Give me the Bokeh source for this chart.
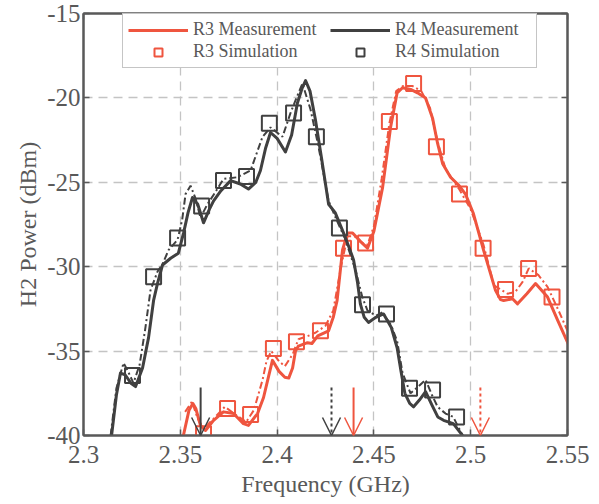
from bokeh.plotting import figure
from bokeh.models import (Range1d, FixedTicker, LinearAxis, Legend, LegendItem,
                          Arrow, OpenHead)
from bokeh.embed import file_html
from bokeh.resources import INLINE

# ---------------- data ----------------
x_ticks = [2.3, 2.35, 2.4, 2.45, 2.5, 2.55]
x_labels = ["2.3", "2.35", "2.4", "2.45", "2.5", "2.55"]
y_ticks = [-40, -35, -30, -25, -20, -15]
y_labels = ["-40", "-35", "-30", "-25", "-20", "-15"]

r3_meas_x = [2.3516, 2.3545, 2.3565, 2.3580, 2.3604, 2.3630, 2.3672, 2.3723, 2.3775, 2.3826,
             2.3852, 2.3899, 2.3930, 2.3956, 2.3976, 2.4010, 2.4040, 2.4060, 2.4080, 2.4095,
             2.4110, 2.4157, 2.4180, 2.4210, 2.4266, 2.4290, 2.4310, 2.4338, 2.4364, 2.4390,
             2.4430, 2.4467, 2.4500, 2.4545, 2.4586, 2.4620, 2.4648, 2.4690, 2.4725, 2.4767,
             2.4803, 2.4829, 2.4855, 2.4896, 2.4940, 2.4973, 2.5014, 2.5066, 2.5128, 2.5154,
             2.5170, 2.5216, 2.5242, 2.5290, 2.5335, 2.5397, 2.5450, 2.5505]
r3_meas_y = [-40.0, -38.5, -38.1, -38.4, -39.4, -39.7, -39.1, -38.6, -38.7, -39.3,
             -39.4, -38.7, -37.75, -36.5, -35.55, -36.2, -36.55, -36.6, -36.0, -35.0,
             -34.7, -34.5, -34.55, -34.1, -33.8, -33.0, -32.0, -29.0, -28.0, -28.0,
             -28.5, -28.9, -27.9, -25.3, -21.75, -19.7, -19.4, -19.5, -19.7, -20.0,
             -21.2, -22.7, -23.9, -24.7, -25.2, -25.7, -26.85, -29.0, -31.4, -31.95,
             -32.0, -31.9, -32.2, -31.6, -31.0, -31.8, -33.2, -34.6]

r3_simline_x = [2.3525, 2.3560, 2.3590, 2.3620, 2.3672, 2.3730, 2.3790, 2.3840, 2.3880, 2.3925,
                2.3945, 2.3970, 2.4010, 2.4040, 2.4080, 2.4110, 2.4160, 2.4200, 2.4250, 2.4290,
                2.4330, 2.4364, 2.4400, 2.4440, 2.4467, 2.4500, 2.4540, 2.4580, 2.4615, 2.4650,
                2.4700, 2.4745, 2.4790, 2.4829, 2.4870, 2.4940, 2.5000, 2.5066, 2.5120, 2.5190,
                2.5230, 2.5268, 2.5300, 2.5350, 2.5397, 2.5454, 2.5500]
r3_simline_y = [-38.6, -38.0, -39.0, -39.6, -39.0, -38.3, -38.8, -39.2, -38.5, -36.7,
                -35.6, -35.0, -35.6, -35.9, -35.2, -34.3, -34.1, -33.9, -33.5, -32.6,
                -30.0, -28.2, -28.2, -28.6, -28.7, -27.6, -24.8, -21.5, -19.6, -19.3,
                -19.3, -19.6, -20.6, -22.6, -24.2, -25.4, -26.6, -28.7, -31.1, -31.6,
                -31.5, -30.9, -30.1, -30.5, -31.2, -32.6, -33.8]

r3_sim_x = [2.3620, 2.3744, 2.3863, 2.3981, 2.4100, 2.4224, 2.4343, 2.4457,
            2.4580, 2.4705, 2.4823, 2.4942, 2.5064, 2.5180, 2.5299, 2.5420]
r3_sim_y = [-39.9, -38.4, -38.75, -34.85, -34.45, -33.8, -28.9, -28.6,
            -21.4, -19.15, -22.9, -25.7, -28.9, -31.35, -30.1, -31.8]

r4_meas_x = [2.3145, 2.3170, 2.3191, 2.3215, 2.3245, 2.3269, 2.3305, 2.3336, 2.3362, 2.3382,
             2.3408, 2.3450, 2.3490, 2.3517, 2.3540, 2.3563, 2.3590, 2.3620, 2.3650, 2.3672,
             2.3710, 2.3760, 2.3810, 2.3852, 2.3890, 2.3914, 2.3940, 2.3966, 2.4000, 2.4043,
             2.4075, 2.4105, 2.4130, 2.4147, 2.4170, 2.4198, 2.4230, 2.4266, 2.4300, 2.4343,
             2.4370, 2.4395, 2.4415, 2.4430, 2.4450, 2.4472, 2.4510, 2.4550, 2.4590, 2.4620,
             2.4640, 2.4660, 2.4685, 2.4705, 2.4735, 2.4767, 2.4800, 2.4830, 2.4860, 2.4910,
             2.4958]
r4_meas_y = [-40.0, -37.6, -36.3, -36.4, -36.9, -37.1, -36.0, -34.2, -32.0, -31.0,
             -29.9, -29.5, -29.2, -28.0, -26.8, -25.9, -26.3, -27.4, -26.6, -26.1,
             -25.5, -24.9, -25.1, -25.4, -25.0, -24.3, -23.0, -22.05, -22.4, -23.2,
             -22.2, -20.3, -19.4, -18.97, -19.6, -21.3, -23.6, -26.3, -26.8, -28.0,
             -28.8, -29.6, -30.9, -32.2, -33.0, -33.3, -33.0, -32.8, -33.6, -34.8,
             -36.2, -37.5, -38.1, -38.3, -37.9, -37.4, -38.2, -38.9, -39.1, -39.3,
             -40.0]

r4_simline_x = [2.3140, 2.3170, 2.3207, 2.3230, 2.3258, 2.3290, 2.3320, 2.3346, 2.3382, 2.3410,
                2.3440, 2.3486, 2.3510, 2.3527, 2.3553, 2.3580, 2.3604, 2.3640, 2.3680, 2.3723,
                2.3795, 2.3863, 2.3925, 2.3966, 2.4028, 2.4069, 2.4100, 2.4131, 2.4173, 2.4214,
                2.4266, 2.4310, 2.4350, 2.4405, 2.4440, 2.4467, 2.4510, 2.4545, 2.4590, 2.4620,
                2.4648, 2.4689, 2.4730, 2.4767, 2.4800, 2.4829, 2.4870, 2.4910, 2.4958]
r4_simline_y = [-40.0, -37.2, -35.7, -36.2, -36.9, -35.8, -33.6, -31.4, -30.3, -29.8,
                -29.0, -28.4, -27.2, -25.7, -25.2, -26.0, -27.1, -26.3, -25.6, -24.8,
                -24.7, -24.3, -22.3, -21.75, -22.3, -20.9, -20.0, -19.15, -20.7, -22.9,
                -26.1, -27.3, -28.3, -30.2, -31.8, -32.6, -32.9, -32.7, -33.5, -34.4,
                -36.3, -37.5, -37.1, -36.7, -37.6, -38.3, -38.7, -38.9, -40.0]

r4_sim_x = [2.3253, 2.3362, 2.3486, 2.3610, 2.3723, 2.3842, 2.3960, 2.4085,
            2.4203, 2.4322, 2.4441, 2.4565, 2.4684, 2.4803, 2.4927]
r4_sim_y = [-36.45, -30.6, -28.3, -26.4, -24.9, -24.66, -21.5, -20.9,
            -22.3, -27.7, -32.25, -32.8, -37.2, -37.3, -38.9]

# marker arrows: (frequency, series, style)
arrow_x = [2.3605, 2.4281, 2.4395, 2.5050]
arrow_series = ["R4", "R4", "R3", "R3"]
arrow_style = ["solid", "dotted", "solid", "dotted"]
arrow_top = -37.15
arrow_tip = -40.0

# ---------------- styling ----------------
RED = "#EF553F"
DARK = "#404040"
TXT = "#595959"
AX = "#595959"
FONT = "'Liberation Serif', 'Times New Roman', serif"
colors = {"R3": RED, "R4": DARK}

p = figure(width=599, height=504, output_backend="svg", toolbar_location=None,
           x_range=Range1d(2.3, 2.55), y_range=Range1d(-40, -15),
           min_border_left=83, min_border_right=32, min_border_top=13,
           min_border_bottom=69)
p.background_fill_color = "white"
p.border_fill_color = "white"
p.outline_line_color = AX
p.outline_line_width = 2

xt = FixedTicker(ticks=x_ticks, minor_ticks=[])
yt = FixedTicker(ticks=y_ticks, minor_ticks=[])

for ax in p.xaxis:
    ax.ticker = xt
    ax.major_label_overrides = dict(zip(x_ticks, x_labels))
    ax.axis_label = "Frequency (GHz)"
for ax in p.yaxis:
    ax.ticker = yt
    ax.major_label_overrides = dict(zip(y_ticks, y_labels))
    ax.axis_label = "H2 Power (dBm)"

for ax in list(p.xaxis) + list(p.yaxis):
    ax.axis_line_color = AX
    ax.axis_line_width = 2
    ax.major_tick_line_color = AX
    ax.major_tick_line_width = 1.5
    ax.major_tick_in = 6
    ax.major_tick_out = 0
    ax.minor_tick_line_color = None
    ax.major_label_text_font = FONT
    ax.major_label_text_font_size = "25px"
    ax.major_label_text_color = TXT
    ax.axis_label_text_font = FONT
    ax.axis_label_text_font_size = "24px"
    ax.axis_label_text_font_style = "normal"
    ax.axis_label_text_color = TXT

p.xaxis.major_label_standoff = 10
p.xaxis.axis_label_standoff = 5
p.yaxis.major_label_standoff = 3
p.yaxis.axis_label_standoff = 3

# box ticks on the top and right sides (no labels)
for loc, tk in (("above", xt), ("right", yt)):
    a = LinearAxis(ticker=tk, axis_line_color=AX, axis_line_width=2,
                   major_tick_line_color=AX, major_tick_line_width=1.5,
                   major_tick_in=6, major_tick_out=0, minor_tick_line_color=None,
                   major_label_text_color=None, major_label_text_font_size="1px",
                   major_label_standoff=0)
    p.add_layout(a, loc)

p.xgrid.ticker = xt
p.ygrid.ticker = yt
for g in (p.xgrid, p.ygrid):
    g.grid_line_color = "#c4c4c4"
    g.grid_line_width = 1.3
    g.grid_line_dash = "9 6"

# R3 series
r3m = p.line(r3_meas_x, r3_meas_y, line_color=RED, line_width=3, line_join="round")
p.line(r3_simline_x, r3_simline_y, line_color=RED, line_width=2, line_dash="7 3 2 3")
r3s = p.scatter(r3_sim_x, r3_sim_y, marker="square", size=15, fill_color=None,
                line_color=RED, line_width=2)
# R4 series
r4m = p.line(r4_meas_x, r4_meas_y, line_color=DARK, line_width=3, line_join="round")
p.line(r4_simline_x, r4_simline_y, line_color=DARK, line_width=2, line_dash="7 3 2 3")
r4s = p.scatter(r4_sim_x, r4_sim_y, marker="square", size=15, fill_color=None,
                line_color=DARK, line_width=2)

# arrows
for xa, s, st in zip(arrow_x, arrow_series, arrow_style):
    c = colors[s]
    dash = "solid" if st == "solid" else "3 3"
    p.add_layout(Arrow(x_start=xa, y_start=arrow_top, x_end=xa, y_end=arrow_tip,
                       line_color=c, line_width=2, line_dash=dash,
                       end=OpenHead(size=18, line_color=c, line_width=1.5)))

legend = Legend(items=[LegendItem(label="R3 Measurement", renderers=[r3m]),
                       LegendItem(label="R3 Simulation", renderers=[r3s]),
                       LegendItem(label="R4 Measurement", renderers=[r4m]),
                       LegendItem(label="R4 Simulation", renderers=[r4s])],
                location=(39, 367), ncols=2, orientation="vertical",
                label_text_font=FONT, label_text_font_size="18px",
                label_text_color=TXT, glyph_width=60, glyph_height=20,
                label_height=20, label_width=136, label_standoff=5,
                spacing=1, padding=5, margin=0,
                border_line_color="#8c8c8c", border_line_width=1,
                background_fill_color="white", background_fill_alpha=1)
p.add_layout(legend, "center")

open("out.html", "w").write(file_html(p, INLINE))
